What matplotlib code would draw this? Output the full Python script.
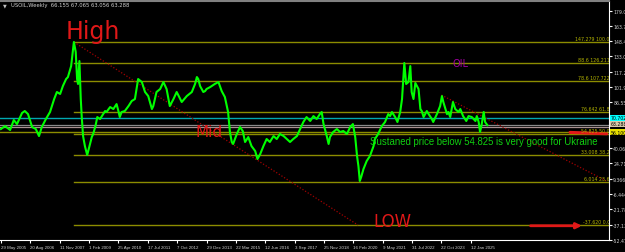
import matplotlib
matplotlib.use("Agg")
import matplotlib.pyplot as plt
import matplotlib.transforms as mtransforms

# weekly close line, x = weeks since 29 May 2005
weeks = [0, 9, 20, 28, 35, 46, 52, 59, 68, 76, 83, 89, 98, 107, 116, 122, 129, 135,
         142, 146, 153, 156, 159, 163, 166, 168, 171, 174, 176, 179, 183, 188, 194,
         198, 201, 206, 210, 216, 220, 227, 230, 238, 245, 252, 256, 259, 263, 270,
         278, 285, 292, 299, 307, 314, 321, 329, 332, 339, 347, 354, 361, 368, 376,
         383, 394, 405, 416, 423, 427, 430, 434, 441, 445, 448, 456, 466, 474, 481,
         488, 495, 499, 503, 506, 514, 521, 527, 532, 539, 546, 554, 559, 565, 572,
         579, 586, 594, 601, 608, 616, 623, 630, 637, 645, 652, 659, 666, 674, 681,
         688, 695, 699, 703, 710, 714, 717, 724, 732, 739, 746, 754, 761, 767, 772,
         776, 779, 782, 785, 790, 797, 804, 812, 815, 822, 830, 837, 844, 848, 852,
         859, 864, 870, 874, 879, 883, 888, 892, 895, 899, 903, 910, 914, 917, 921,
         928, 932, 939, 942, 950, 957, 961, 964, 972, 975, 979, 985, 990, 997, 1001,
         1007, 1014, 1019, 1026, 1034, 1037, 1041, 1044, 1047, 1052, 1055, 1060]
close = [59.4, 62.4, 58.4, 68.5, 64.4, 75.6, 77.6, 74.5, 61.4, 59.4, 52.3, 61.4, 69.5,
         76.6, 89.7, 96.8, 94.8, 102.8, 109.9, 111.9, 123.0, 135.2, 147.3, 137.2, 109.9,
         104.9, 128.1, 89.7, 72.5, 52.3, 42.2, 33.1, 44.2, 51.3, 54.4, 62.4, 71.5, 69.5,
         72.5, 77.6, 76.6, 81.6, 79.6, 84.6, 77.6, 71.5, 76.6, 77.6, 82.6, 87.7, 89.7,
         109.9, 106.9, 96.8, 92.7, 79.6, 82.6, 96.8, 99.8, 106.9, 99.8, 82.6, 89.7, 96.8,
         86.7, 92.7, 96.8, 104.9, 111.9, 109.9, 102.8, 96.8, 97.8, 99.8, 101.8, 104.9,
         106.9, 97.8, 91.7, 76.6, 56.4, 46.3, 44.3, 54.4, 61.4, 57.4, 46.3, 51.3, 42.2,
         37.2, 29.1, 34.1, 42.2, 49.3, 46.3, 52.3, 49.3, 54.4, 52.3, 49.3, 46.3, 49.3,
         52.3, 59.4, 66.5, 71.5, 67.5, 72.5, 69.5, 74.5, 76.6, 64.4, 52.3, 44.3, 51.3,
         56.4, 59.4, 56.4, 57.4, 54.4, 61.4, 64.4, 51.3, 32.1, 22.0, 6.9, 10.9, 19.0,
         27.1, 32.1, 42.2, 49.3, 54.4, 62.4, 66.5, 74.5, 72.5, 76.6, 71.5, 66.5, 76.6,
         89.7, 126.1, 104.9, 106.9, 123.0, 96.8, 89.7, 105.9, 99.8, 79.6, 77.6, 71.5,
         77.6, 74.5, 69.5, 66.5, 74.5, 82.6, 92.7, 86.7, 74.5, 76.6, 71.5, 86.7, 79.6,
         76.6, 79.6, 72.5, 67.5, 72.5, 71.5, 67.5, 72.5, 66.5, 56.4, 62.4, 76.6, 66.5,
         63.3]

date_ticks = [0, 64, 128, 192, 256, 320, 384, 448, 512, 576, 640, 704, 768, 832, 896, 960, 1024]
date_labels = ["29 May 2005", "20 Aug 2006", "11 Nov 2007", "1 Feb 2009", "25 Apr 2010",
               "17 Jul 2011", "7 Oct 2012", "29 Dec 2013", "22 Mar 2015", "12 Jun 2016",
               "3 Sep 2017", "25 Nov 2018", "16 Feb 2020", "9 May 2021", "31 Jul 2022",
               "22 Oct 2023", "12 Jan 2025"]

price_ticks = [179.059, 163.744, 148.409, 133.054, 117.249, 101.904, 86.556,
               40.066, 24.711, 9.366, -6.444, -21.789, -37.134, -52.479]
price_labels = ["179.059", "163.744", "148.409", "133.054", "117.249", "101.904", "86.556",
                "40.066", "24.711", "9.366", "-6.444", "-21.789", "-37.134", "-52.479"]

# fibonacci retracement high (2008) -> low (2020)
fib_start = 159
fib_prices = [147.279, 126.211, 107.722, 76.642, 54.825, 33.008, 6.014, -37.620]
fib_texts = ["147.279 100.0", "88.6 126.211", "78.6 107.722", "76.642 61.8",
             "54.825 50.0", "33.008 38.2", "6.014 23.6", "-37.620 0.0"]

# trend lines (dotted)
trend1_x = [159, 778]
trend1_y = [147.279, -37.62]
trend2_x = [960, 1322]
trend2_y = [93.7, 6.2]

# other horizontal lines
hl_cyan = 70.6
hl_bid = 63.288
hl_pink = 61.3
hl_olive = 56.1

fig = plt.figure(figsize=(6.25, 2.53), dpi=100, facecolor="black")
ax = fig.add_axes([0, 0.0474, 0.9744, 0.9446])
ax.set_facecolor("black")
ax.set_xlim(-2, 1325)
ax.set_ylim(-52.7, 188.7)

olive = "#8c8c00"
for p in fib_prices:
    ax.plot([fib_start, 1325], [p, p], color=olive, lw=1.0)
for p, t in zip(fib_prices, fib_texts):
    ax.text(1327, p + 1.0, t, color="#b4b400", fontsize=3.4, ha="right", va="bottom",
            clip_on=True)

ax.axhline(hl_cyan, color="#00a8b0", lw=1.0)
ax.axhline(hl_bid, color="#8a8a8a", lw=0.9)
ax.axhline(hl_pink, color="#a89090", lw=0.9)
ax.axhline(hl_olive, color=olive, lw=1.0)

ax.plot(trend1_x, trend1_y, color="#a00000", lw=0.9, ls=(0, (1, 1.5)))
ax.plot(trend2_x, trend2_y, color="#a00000", lw=0.9, ls=(0, (1, 1.5)))

ax.plot(weeks, close, color="#00ff00", lw=1.5)

# hand drawn annotations
ax.text(140, 158, "High", color="#e01818", fontsize=17, ha="left", va="center")
ax.text(424, 57, "Mid", color="#e01818", fontsize=11, ha="left", va="center")
ax.text(811, -34, "LOW", color="#e01818", fontsize=12, ha="left", va="center")
ax.annotate("", xy=(1272, -38.3), xytext=(1148, -38.3),
            arrowprops=dict(arrowstyle="-|>", color="#e01818", lw=2, mutation_scale=8))
ax.plot([1240, 1320], [56.0, 54.6], color="#e01818", lw=2.2, solid_capstyle="round")
ax.text(985, 126, "OIL", color="#a000a0", fontsize=7, ha="left", va="center")
ax.text(805, 47.5, "Sustaned price below 54.825 is very good for Ukraine",
        color="#10d010", fontsize=6.9, family="Liberation Sans", ha="left", va="center")

# axes look
ax.spines["left"].set_visible(False)
ax.spines["right"].set_color("white")
ax.spines["bottom"].set_color("white")
ax.spines["top"].set_color("#808080")
ax.spines["top"].set_linewidth(1.5)

ax.yaxis.tick_right()
ax.set_yticks(price_ticks)
ax.set_yticklabels(price_labels)
ax.tick_params(axis="y", colors="white", labelsize=3.3, length=2, pad=1, labelcolor="#d0d0d0")
ax.set_xticks(date_ticks)
ax.set_xticklabels(date_labels, ha="left", family="Liberation Sans")
ax.tick_params(axis="x", colors="white", labelsize=3.2, length=2, pad=1.5, labelcolor="#d0d0d0")

# price marker labels on the right axis
trans = mtransforms.blended_transform_factory(ax.transAxes, ax.transData)
ax.text(1.003, hl_cyan, "70.702", transform=trans, fontsize=3.3, color="black", va="center",
        ha="left", bbox=dict(boxstyle="square,pad=0.15", fc="#00ffff", ec="none"), clip_on=False)
ax.text(1.003, hl_bid + 1.5, "63.288", transform=trans, fontsize=3.3, color="black", va="center",
        ha="left", bbox=dict(boxstyle="square,pad=0.15", fc="#d8c8a8", ec="none"), clip_on=False)
ax.text(1.003, hl_olive, "56.100", transform=trans, fontsize=3.3, color="black", va="center",
        ha="left", bbox=dict(boxstyle="square,pad=0.15", fc="#e8e000", ec="none"), clip_on=False)

fig.text(0.005, 0.978, "\u25bc", color="#c0c0c0", fontsize=3.5, va="center")
fig.text(0.018, 0.978, "USOIL,Weekly  66.155 67.065 63.056 63.288", color="#d0d0d0",
         fontsize=3.8, va="center")

fig.savefig("out.png", dpi=100, facecolor="black")
